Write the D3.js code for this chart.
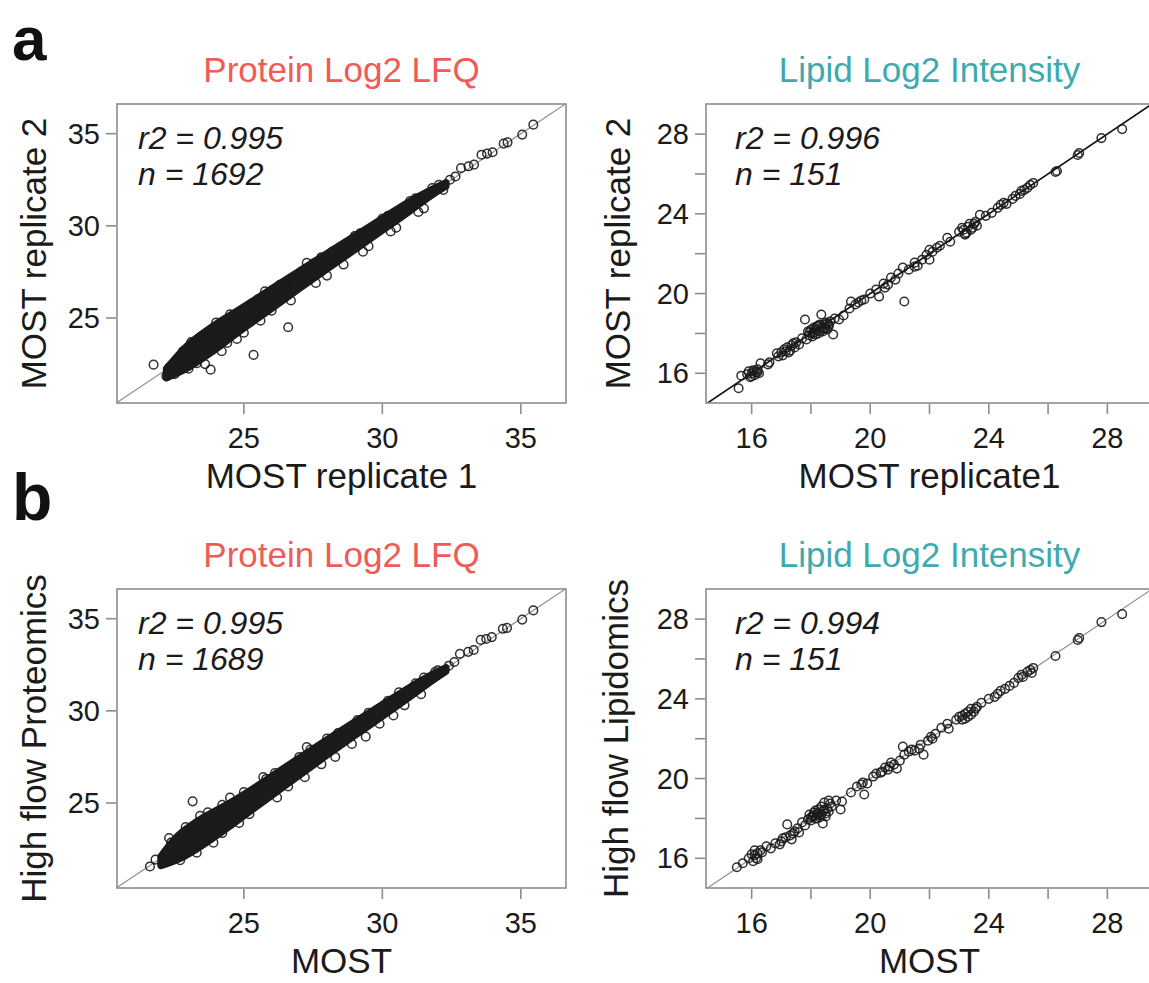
<!DOCTYPE html>
<html>
<head>
<meta charset="utf-8">
<script src="https://cdn.jsdelivr.net/npm/d3@7"></script>
<style>
  body { margin: 0; background: #fff; }
  text { font-family: "Liberation Sans", Arial, sans-serif; }
</style>
</head>
<body>
<svg id="fig" width="1149" height="983"></svg>
<script>
// ---- data ----
var proteinTicks = [25, 30, 35];
var lipidTicks = [16, 18, 20, 22, 24, 26, 28];
var lipidTickLabels = [16, 20, 24, 28];

// dense core of the protein clouds (x, lower y, upper y)
var protA_bandX = [22.2, 22.6, 23, 23.5, 24, 24.5, 25, 26, 27, 28, 29, 30, 31, 31.8, 32.3];
var protA_bandLo = [21.75, 22.0, 22.3, 22.8, 23.3, 23.9, 24.45, 25.5, 26.6, 27.65, 28.7, 29.75, 30.8, 31.7, 32.15];
var protA_bandHi = [22.25, 22.95, 23.6, 24.15, 24.7, 25.15, 25.6, 26.6, 27.55, 28.5, 29.45, 30.4, 31.35, 32.0, 32.35];

var protA_x = [21.74, 22.2, 22.3, 22.5, 22.6, 23.0, 23.1, 23.6, 23.8, 23.4, 23.9, 24.2, 24.75, 24.5, 25.35, 25.0, 25.3, 25.76, 26.6, 26.0, 26.5, 27.27, 27.5, 27.6, 28.2, 28.6, 29.2, 29.5, 30.2, 30.5, 31.2, 31.5,
  32.04, 32.44, 32.64, 32.84, 33.11, 33.31, 33.58, 33.78, 33.98, 34.38, 34.52, 35.05, 35.45,
  22.8, 23.3, 24.0, 24.4, 25.5, 25.6, 26.3, 26.7, 27.8, 28.0, 29.0, 29.3, 30.0, 30.3, 31.0, 31.3, 31.8, 32.2];
var protA_y = [22.47, 21.85, 22.3, 21.95, 22.8, 22.25, 23.7, 22.5, 22.2, 23.9, 24.4, 23.2, 23.86, 25.2, 23.0, 24.2, 25.8, 26.45, 24.5, 25.4, 26.9, 27.99, 27.95, 26.9, 28.6, 27.9, 29.6, 28.9, 30.55, 29.9, 31.5, 30.95,
  32.23, 32.5, 32.68, 33.14, 33.23, 33.32, 33.86, 33.92, 33.99, 34.46, 34.53, 34.95, 35.49,
  23.2, 22.55, 24.75, 23.65, 26.0, 24.85, 26.8, 25.95, 28.3, 27.3, 29.45, 28.6, 30.4, 29.7, 31.35, 30.75, 32.05, 31.95];

var protB_bandX = [22.0, 22.4, 22.8, 23.2, 23.6, 24, 24.5, 25, 26, 27, 28, 29, 30, 31, 31.8, 32.3];
var protB_bandLo = [21.6, 21.8, 22.05, 22.4, 22.8, 23.2, 23.75, 24.3, 25.4, 26.5, 27.6, 28.65, 29.7, 30.75, 31.65, 32.15];
var protB_bandHi = [22.1, 22.9, 23.5, 23.9, 24.3, 24.6, 25.0, 25.45, 26.45, 27.45, 28.45, 29.4, 30.35, 31.3, 32.0, 32.35];

var protB_x = [21.61, 21.81, 22.08, 22.37, 23.15, 23.42, 23.7, 24.22, 24.22, 24.83, 25.0, 25.7, 26.12, 26.6, 27.27, 27.4, 27.8, 28.4, 28.9, 29.5, 29.9, 30.6, 30.8, 31.5,
  32.0, 32.4, 32.6, 32.8, 33.1, 33.3, 33.55, 33.75, 33.95, 34.35, 34.5, 35.05, 35.45,
  22.3, 22.7, 22.9, 23.3, 23.9, 24.5, 25.2, 25.8, 26.2, 27.0, 27.2, 28.0, 28.3, 29.1, 29.4, 30.2, 30.4, 31.2, 31.4, 31.9];
var protB_y = [21.56, 21.93, 22.02, 22.86, 25.09, 24.31, 24.5, 24.9, 23.37, 23.92, 25.6, 26.41, 26.63, 25.9, 28.04, 27.9, 27.1, 28.8, 28.2, 29.9, 29.3, 31.0, 30.3, 31.8,
  32.2, 32.45, 32.65, 33.1, 33.2, 33.3, 33.85, 33.9, 34.0, 34.45, 34.5, 34.95, 35.45,
  23.1, 21.9, 23.7, 22.3, 22.85, 25.3, 24.4, 26.3, 25.3, 27.5, 26.4, 28.5, 27.5, 29.5, 28.6, 30.55, 29.75, 31.5, 30.9, 32.1];

var lipA_x = [15.56, 15.65, 15.85, 15.9, 15.95, 16.0, 16.05, 16.1, 16.15, 16.2, 16.25, 16.3, 16.55, 16.6, 16.85, 16.9, 17.0, 17.05, 17.15, 17.2, 17.3, 17.35, 17.45, 17.5, 17.6, 17.7, 17.8, 17.85, 17.9, 17.95,
  18.0, 18.05, 18.1, 18.15, 18.2, 18.25, 18.3, 18.35, 18.35, 18.4, 18.45, 18.5, 18.55, 18.6, 18.65, 18.75, 18.8, 18.95, 19.1, 19.3, 19.35, 19.5, 19.6, 19.8, 20.0, 20.2, 20.3, 20.45, 20.6, 20.7,
  20.85, 20.95, 21.1, 21.15, 21.3, 21.5, 21.6, 21.75, 21.9, 22.0, 22.1, 22.25, 22.35, 22.6, 22.7, 23.0, 23.1, 23.2, 23.3, 23.4, 23.5, 23.6, 23.7, 23.9, 24.1, 24.3, 24.5, 24.6, 24.8, 24.9,
  25.05, 25.2, 25.3, 25.4, 25.5, 26.25, 26.3, 27.05, 27.0, 27.8, 28.5,
  18.1, 18.2, 18.25, 18.3, 18.4, 18.45, 18.5, 18.55, 18.6, 18.15, 17.95, 18.05, 23.15, 23.25, 23.35, 23.45, 23.55, 23.2, 16.0, 16.1, 16.2, 17.1, 17.25, 17.4, 19.7, 20.5, 21.5, 22.0, 24.4, 25.1];
var lipA_y = [15.25, 15.88, 15.95, 16.1, 15.8, 16.0, 16.15, 15.9, 16.05, 16.2, 16.0, 16.5, 16.45, 16.55, 17.0, 16.85, 17.05, 16.9, 17.1, 17.3, 17.15, 17.4, 17.3, 17.55, 17.45, 17.75, 18.7, 17.7, 18.1, 17.9,
  18.2, 18.0, 18.3, 17.95, 18.15, 18.4, 18.1, 18.95, 18.3, 18.2, 18.45, 18.25, 18.5, 18.35, 18.6, 17.95, 18.75, 18.7, 18.9, 19.25, 19.6, 19.45, 19.55, 19.7, 20.0, 20.2, 19.85, 20.5, 20.45, 20.8,
  20.7, 21.0, 21.3, 19.6, 21.2, 21.55, 21.4, 21.7, 21.95, 21.7, 22.1, 22.3, 22.4, 22.8, 22.6, 23.1, 23.3, 23.0, 23.35, 23.2, 23.5, 23.4, 23.95, 23.9, 24.05, 24.3, 24.55, 24.5, 24.75, 24.9,
  25.0, 25.2, 25.3, 25.45, 25.55, 26.1, 26.15, 27.05, 26.95, 27.8, 28.25,
  18.05, 18.35, 18.0, 18.45, 18.1, 18.3, 18.55, 18.2, 18.45, 18.25, 18.05, 17.85, 23.2, 23.05, 23.5, 23.3, 23.6, 22.95, 15.85, 16.1, 16.05, 17.2, 17.05, 17.5, 19.65, 20.3, 21.35, 22.2, 24.45, 25.15];

var lipB_x = [15.5, 15.7, 15.9, 16.0, 16.05, 16.1, 16.15, 16.2, 16.35, 16.5, 16.65, 16.8, 16.95, 17.05, 17.2, 17.3, 17.35, 17.45, 17.55, 17.6, 17.7, 17.8, 17.9, 17.95, 18.0, 18.05, 18.1, 18.15, 18.2, 18.25,
  18.3, 18.35, 18.4, 18.4, 18.45, 18.5, 18.55, 18.6, 18.7, 18.85, 19.0, 19.05, 19.35, 19.55, 19.75, 19.8, 19.9, 20.1, 20.2, 20.35, 20.5, 20.6, 20.7, 20.8, 20.9, 21.0, 21.1, 21.15, 21.3, 21.5,
  21.65, 21.7, 21.8, 21.95, 22.05, 22.2, 22.4, 22.6, 22.65, 22.9, 23.0, 23.1, 23.2, 23.3, 23.4, 23.5, 23.6, 23.75, 24.0, 24.2, 24.4, 24.55, 24.7, 24.85, 25.0, 25.15, 25.3, 25.4, 25.5,
  26.25, 27.0, 27.05, 27.8, 28.5,
  18.1, 18.2, 18.25, 18.3, 18.35, 18.45, 18.5, 18.6, 18.65, 18.0, 18.15, 23.1, 23.2, 23.3, 23.4, 23.55, 16.1, 16.2, 16.3, 17.0, 17.15, 17.4, 19.7, 20.4, 21.4, 22.1, 24.3, 25.1, 25.45, 20.65];
var lipB_y = [15.55, 15.75, 16.0, 16.2, 15.85, 16.4, 16.0, 16.25, 16.3, 16.6, 16.5, 16.75, 16.7, 17.0, 17.7, 17.15, 16.95, 17.35, 17.5, 17.3, 17.8, 17.65, 17.95, 18.2, 17.9, 18.1, 18.3, 18.0, 18.2, 18.45,
  18.15, 18.6, 17.75, 18.35, 18.8, 18.25, 18.5, 18.9, 18.6, 18.9, 18.45, 18.85, 19.3, 19.6, 19.8, 19.2, 19.75, 20.1, 20.25, 20.3, 20.55, 20.45, 20.8, 20.7, 20.5, 20.9, 21.6, 21.2, 21.35, 21.4,
  21.5, 21.7, 21.2, 21.9, 22.1, 22.25, 22.55, 22.75, 22.5, 22.95, 23.1, 22.95, 23.25, 23.1, 23.5, 23.35, 23.6, 23.8, 24.0, 24.1, 24.4, 24.5, 24.65, 24.8, 25.05, 25.1, 25.35, 25.45, 25.55,
  26.15, 26.95, 27.05, 27.85, 28.25,
  18.15, 18.0, 18.3, 18.05, 18.2, 18.45, 18.1, 18.35, 18.75, 18.05, 18.4, 23.15, 23.0, 23.35, 23.2, 23.5, 16.15, 15.95, 16.4, 16.85, 17.05, 17.25, 19.7, 20.35, 21.45, 22.0, 24.25, 25.2, 25.3, 20.6];

var svg = d3.select("#fig");
var ink = "#1b1b1b";
var frameColor = "#8c8c8c";

function zip(xs, ys) {
    return xs.map(function (x, i) { return [x, ys[i]]; });
}

function drawPanel(p) {
    var x = d3.scaleLinear().domain(p.xDomain).range([p.left, p.left + p.width]);
    var y = d3.scaleLinear().domain(p.yDomain).range([p.top + p.height, p.top]);
    var g = svg.append("g");

    var clipId = "clip" + p.id;
    svg.append("clipPath").attr("id", clipId)
        .append("rect")
        .attr("x", p.left).attr("y", p.top)
        .attr("width", p.width).attr("height", p.height);

    var plot = g.append("g").attr("clip-path", "url(#" + clipId + ")");

    // identity line
    var lo = Math.min(p.xDomain[0], p.yDomain[0]) - 1;
    var hi = Math.max(p.xDomain[1], p.yDomain[1]) + 1;
    plot.append("line")
        .attr("x1", x(lo)).attr("y1", y(lo))
        .attr("x2", x(hi)).attr("y2", y(hi))
        .attr("stroke", p.lineColor)
        .attr("stroke-width", p.lineWidth);

    if (p.bandX) {
        var band = d3.area()
            .x(function (d) { return x(d[0]); })
            .y0(function (d) { return y(d[1]); })
            .y1(function (d) { return y(d[2]); })
            .curve(d3.curveBasis);
        var bandData = p.bandX.map(function (v, i) { return [v, p.bandLo[i], p.bandHi[i]]; });
        plot.append("path")
            .attr("d", band(bandData))
            .attr("fill", ink)
            .attr("stroke", ink)
            .attr("stroke-width", 7)
            .attr("stroke-linejoin", "round");
    }

    plot.selectAll("circle")
        .data(zip(p.xs, p.ys))
        .enter()
        .append("circle")
        .attr("cx", function (d) { return x(d[0]); })
        .attr("cy", function (d) { return y(d[1]); })
        .attr("r", 4.3)
        .attr("fill", "none")
        .attr("stroke", ink)
        .attr("stroke-opacity", 0.9)
        .attr("stroke-width", 1.5);

    // frame
    g.append("rect")
        .attr("x", p.left).attr("y", p.top)
        .attr("width", p.width).attr("height", p.height)
        .attr("fill", "none")
        .attr("stroke", frameColor)
        .attr("stroke-width", 1.6);

    // ticks
    g.selectAll(".xt").data(p.ticks).enter().append("line")
        .attr("x1", function (d) { return x(d); }).attr("x2", function (d) { return x(d); })
        .attr("y1", p.top + p.height + 1).attr("y2", p.top + p.height + 11)
        .attr("stroke", frameColor).attr("stroke-width", 1.6);
    g.selectAll(".yt").data(p.ticks).enter().append("line")
        .attr("y1", function (d) { return y(d); }).attr("y2", function (d) { return y(d); })
        .attr("x1", p.left - 1).attr("x2", p.left - 11)
        .attr("stroke", frameColor).attr("stroke-width", 1.6);

    g.selectAll(".xl").data(p.tickLabels).enter().append("text")
        .attr("x", function (d) { return x(d); })
        .attr("y", p.top + p.height + 45)
        .attr("text-anchor", "middle")
        .attr("font-size", 29)
        .attr("fill", ink)
        .text(function (d) { return d; });
    g.selectAll(".yl").data(p.tickLabels).enter().append("text")
        .attr("x", p.left - 17)
        .attr("y", function (d) { return y(d) + 10; })
        .attr("text-anchor", "end")
        .attr("font-size", 29)
        .attr("fill", ink)
        .text(function (d) { return d; });

    var cx = p.left + p.width / 2;
    g.append("text")
        .attr("x", cx).attr("y", p.top - 22)
        .attr("text-anchor", "middle")
        .attr("font-size", 35)
        .attr("fill", p.titleColor)
        .text(p.title);
    g.append("text")
        .attr("x", cx).attr("y", p.top + p.height + 85)
        .attr("text-anchor", "middle")
        .attr("font-size", 35)
        .attr("fill", ink)
        .text(p.xLabel);
    g.append("text")
        .attr("transform", "translate(" + p.yLabelX + "," + (p.top + p.height / 2) + ") rotate(-90)")
        .attr("text-anchor", "middle")
        .attr("font-size", 35)
        .attr("fill", ink)
        .text(p.yLabel);

    // r2 and n, two lines kept apart so they do not collide
    g.append("text")
        .attr("x", p.left + p.statDx).attr("y", p.top + 45)
        .attr("font-size", 32).attr("font-style", "italic").attr("fill", ink)
        .text(p.r2);
    g.append("text")
        .attr("x", p.left + p.statDx).attr("y", p.top + 81)
        .attr("font-size", 32).attr("font-style", "italic").attr("fill", ink)
        .text(p.n);
}

var proteinColor = "#ef5b56";
var lipidColor = "#3eaab0";

var panels = [
    { id: "pa", left: 117, top: 104, width: 449, height: 299,
      xDomain: [20.42, 36.63], yDomain: [20.39, 36.61], ticks: proteinTicks, tickLabels: proteinTicks,
      bandX: protA_bandX, bandLo: protA_bandLo, bandHi: protA_bandHi, xs: protA_x, ys: protA_y,
      lineColor: "#8a8a8a", lineWidth: 1.1, title: "Protein Log2 LFQ", titleColor: proteinColor,
      xLabel: "MOST replicate 1", yLabel: "MOST replicate 2", yLabelX: 46, statDx: 21,
      r2: "r2 = 0.995", n: "n = 1692" },
    { id: "la", left: 706, top: 104, width: 447, height: 299,
      xDomain: [14.46, 29.54], yDomain: [14.51, 29.51], ticks: lipidTicks, tickLabels: lipidTickLabels,
      xs: lipA_x, ys: lipA_y,
      lineColor: "#111", lineWidth: 1.7, title: "Lipid Log2 Intensity", titleColor: lipidColor,
      xLabel: "MOST replicate1", yLabel: "MOST replicate 2", yLabelX: 630, statDx: 29,
      r2: "r2 = 0.996", n: "n = 151" },
    { id: "pb", left: 117, top: 589, width: 449, height: 299,
      xDomain: [20.42, 36.63], yDomain: [20.39, 36.61], ticks: proteinTicks, tickLabels: proteinTicks,
      bandX: protB_bandX, bandLo: protB_bandLo, bandHi: protB_bandHi, xs: protB_x, ys: protB_y,
      lineColor: "#8a8a8a", lineWidth: 1.1, title: "Protein Log2 LFQ", titleColor: proteinColor,
      xLabel: "MOST", yLabel: "High flow Proteomics", yLabelX: 46, statDx: 21,
      r2: "r2 = 0.995", n: "n = 1689" },
    { id: "lb", left: 706, top: 589, width: 447, height: 299,
      xDomain: [14.46, 29.54], yDomain: [14.51, 29.51], ticks: lipidTicks, tickLabels: lipidTickLabels,
      xs: lipB_x, ys: lipB_y,
      lineColor: "#8a8a8a", lineWidth: 1.1, title: "Lipid Log2 Intensity", titleColor: lipidColor,
      xLabel: "MOST", yLabel: "High flow Lipidomics", yLabelX: 628, statDx: 29,
      r2: "r2 = 0.994", n: "n = 151" }
];

panels.forEach(drawPanel);

// panel letters
svg.append("text").attr("x", 12).attr("y", 60)
    .attr("font-size", 62).attr("font-weight", "bold").attr("fill", "#111").text("a");
svg.append("text").attr("x", 12).attr("y", 520)
    .attr("font-size", 66).attr("font-weight", "bold").attr("fill", "#111").text("b");
</script>
</body>
</html>
